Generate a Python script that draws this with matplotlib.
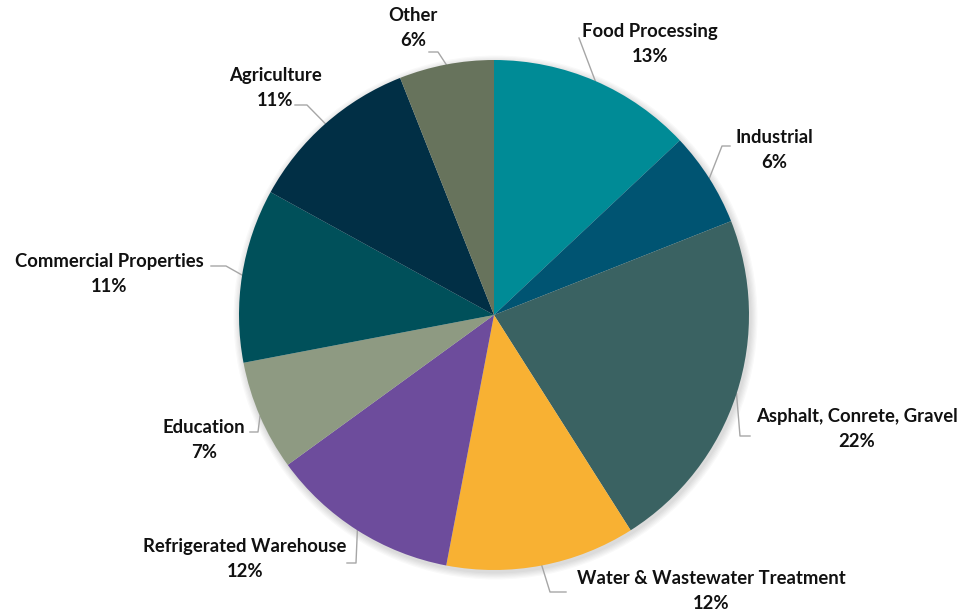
import matplotlib
matplotlib.use("Agg")
import matplotlib.pyplot as plt
import numpy as np
from matplotlib.patches import Circle

plt.rcParams["font.family"] = ["Lato", "DejaVu Sans"]

sectors = [
    "Food Processing", "Industrial", "Asphalt, Conrete, Gravel",
    "Water & Wastewater Treatment", "Refrigerated Warehouse", "Education",
    "Commercial Properties", "Agriculture", "Other",
]
shares = [13, 6, 22, 12, 12, 7, 11, 11, 6]
colors = [
    "#008B96", "#005472", "#3A6262", "#F8B133", "#6D4C9C",
    "#8E9A82", "#00505A", "#012F45", "#67735C",
]

# label layout in pixel space (y measured from the top): text centre, leader knee, leader end x
label_xy = [(650, 44), (774, 150), (857, 429), (711, 591), (245, 559),
            (204, 440), (109, 274), (275, 88), (413, 28)]
knee_xy = [(579, 38), (722, 146), (740, 436), (550, 592), (356, 563),
           (258, 432), (226, 266), (307, 105), (438, 52)]
end_x = [579, 730, 750, 566, 347, 250, 211, 295, 429]

W, H = 963, 615
cx, cy, r = 494, H - 315, 255

fig = plt.figure(figsize=(W / 100, H / 100), dpi=100)
ax = fig.add_axes([0, 0, 1, 1])

# soft drop shadow under the pie
for k in range(6):
    ax.add_patch(Circle((cx + 1.5, cy - 2.5), r + 1 + k * 1.2,
                        color="black", alpha=0.025, lw=0, zorder=0))

wedges, _ = ax.pie(shares, colors=colors, startangle=90, counterclock=False,
                   center=(cx, cy), radius=r, frame=True,
                   wedgeprops=dict(linewidth=0, zorder=2))
ax.set_xlim(0, W)
ax.set_ylim(0, H)
ax.set_aspect("equal")
ax.axis("off")

for w, name, val, (tx, ty), (kx, ky), ex in zip(wedges, sectors, shares, label_xy, knee_xy, end_x):
    mid = np.deg2rad((w.theta1 + w.theta2) / 2)
    px, py = cx + r * np.cos(mid), cy + r * np.sin(mid)
    ax.plot([px, kx, ex], [py, H - ky, H - ky], color="#A6A6A6", lw=1, zorder=1)
    ax.text(tx, H - ty, f"{name}\n{val}%", ha="center", va="center",
            fontsize=13.3, fontweight="bold", color="#111111", linespacing=1.55)

fig.savefig("out.png", dpi=100)
